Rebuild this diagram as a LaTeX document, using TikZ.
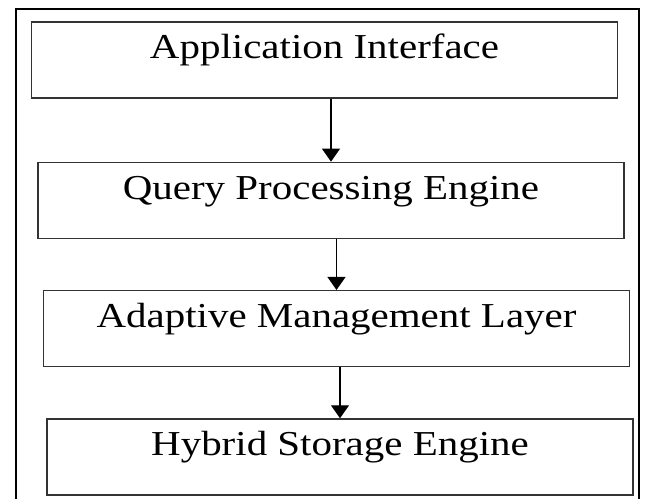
\documentclass[tikz,border=0pt]{standalone}
\usepackage{fontspec}
\setmainfont{Liberation Serif}[FakeStretch=1.17]
\usetikzlibrary{positioning,arrows.meta}

\begin{document}
\begin{tikzpicture}[x=1pt,y=1pt,
    layer/.style={draw=black!80, line width=1.3pt, inner sep=0pt,
      minimum width=586pt, text height=37pt, text depth=39pt,
      font=\fontsize{35pt}{38pt}\selectfont},
    flow/.style={line width=1.2pt, -{Triangle[width=18pt,length=13pt]}}]
    \useasboundingbox (0,0) rectangle (645,499);
    \draw[line width=1.6pt] (16,0) |- (639,490) -- (639,0);
    \node[layer] (app) at (324.5,439) {Application Interface};
    \node[layer, below = 63pt of app, xshift=6.5pt] (query) {Query Processing Engine};
    \node[layer, below = 51pt of query, xshift=5.5pt] (adapt) {Adaptive Management Layer};
    \node[layer, below = 51pt of adapt, xshift=3.5pt] (store) {Hybrid Storage Engine};
    \draw[flow] (query.north |- app.south) -- (query.north);
    \draw[flow] (adapt.north |- query.south) -- (adapt.north);
    \draw[flow] (store.north |- adapt.south) -- (store.north);
\end{tikzpicture}
\end{document}
